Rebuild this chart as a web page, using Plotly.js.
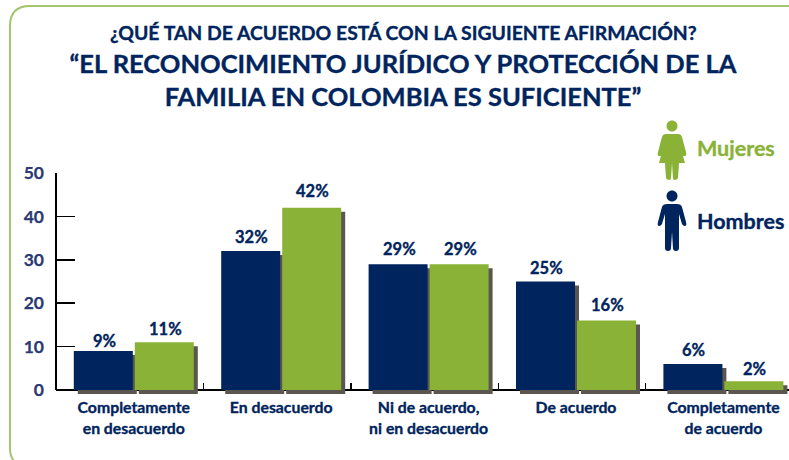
<!DOCTYPE html>
<html>
<head>
<meta charset="utf-8">
<script src="https://cdn.plot.ly/plotly-3.0.1.min.js"></script>
<style>
html,body{margin:0;padding:0;background:#fff}
.gtitle,.annotation text,.xtick text{stroke:#00245d;stroke-width:.35px}
.annotation[data-index="1"] text{stroke:#8ab237}
.ytick text{stroke:#2b3a75;stroke-width:.25px}
</style>
</head>
<body>
<div id="chart" style="width:789px;height:460px"></div>
<script>
const categories = ["Completamente<br>en desacuerdo","En desacuerdo","Ni de acuerdo,<br>ni en desacuerdo","De acuerdo","Completamente<br>de acuerdo"];
const hombres = [9,32,29,25,6];
const mujeres = [11,42,29,16,2];
const hombresLift = [10,14,15,14,14];
const mujeresLift = [13,17,15,16,12];
const yTicks = [0,10,20,30,40,50];
const NAVY="#00245d", GREEN="#8ab237", SHADOW="#5b5750", FONT="Lato, 'Open Sans', sans-serif";
const W=789,H=460,L=56,R=0,T=173,B=66;
const unit=147.4, x0=133.8;
const pw=W-L-R, ph=H-T-B;
const perUnit=217/50, shY=4/perUnit;
const xr=[(L-x0)/unit,(W-R-x0)/unit];
const idx=categories.map((_,i)=>i);
const barW=59/unit, shX=4/unit, off=30.5/unit;
const px=(x)=>((x-L)/pw).toFixed(4);
const py=(y)=>((H-B-y)/ph).toFixed(4);
function path(d){return d.replace(/(-?[\d.]+),(-?[\d.]+)/g,(m,a,b)=>px(+a)+','+py(+b));}
function shape(d,fill){return {type:'path',xref:'paper',yref:'paper',path:path(d),fillcolor:fill,line:{width:0},layer:'above'};}
function circle(cx,cy,r){return `M${cx-r},${cy} C${cx-r},${cy-r*0.55} ${cx-r*0.55},${cy-r} ${cx},${cy-r} C${cx+r*0.55},${cy-r} ${cx+r},${cy-r*0.55} ${cx+r},${cy} C${cx+r},${cy+r*0.55} ${cx+r*0.55},${cy+r} ${cx},${cy+r} C${cx-r*0.55},${cy+r} ${cx-r},${cy+r*0.55} ${cx-r},${cy} Z`;}
const womanBody="M666,134 L678,134 Q681,134 682,137 L686,152 Q687,156 685,156 L683,156 L679,142 L685,163 L679,163 L678,178 Q677,180 675,180 Q673,180 673,178 L672,163 L671,178 Q671,180 669,180 Q667,180 666,178 L665,163 L659,163 L665,142 L661,156 L659,156 Q657,156 658,152 L662,137 Q663,134 666,134 Z";
const manBody="M667,204 L677,204 Q681,204 682,207 L686,222 Q687,226 685,226 Q683,226 682,224 L679,214 L679,248 Q679,251 676,251 Q673,251 673,248 L672,232 L671,248 Q671,251 668,251 Q665,251 665,248 L665,214 L662,224 Q661,226 659,226 Q657,226 658,222 L662,207 Q663,204 667,204 Z";
const frame="M789,6 L30,6 Q10,6 10,26 L10,448 Q10,458 16,463";
function shadowTrace(vals,o){return {type:'bar',x:idx.map(i=>i+o+shX),y:vals,base:vals.map(()=>-shY),width:barW,
  marker:{color:SHADOW,line:{width:0}},hoverinfo:'skip',showlegend:false};}
function barTrace(name,vals,o,color){return {type:'bar',name:name,x:idx.map(i=>i+o),y:vals,width:barW,marker:{color:color,line:{width:0}},showlegend:false};}
const traces=[shadowTrace(hombres,-off),shadowTrace(mujeres,off),barTrace('Hombres',hombres,-off,NAVY),barTrace('Mujeres',mujeres,off,GREEN)];
function labels(vals,lift,o){return vals.map((v,i)=>({x:i+o,y:v,xref:'x',yref:'y',text:v+'%',showarrow:false,yanchor:'middle',yshift:lift[i],xshift:1,font:{family:FONT,size:16.5,color:NAVY,weight:700}}));}
const layout={width:W,height:H,margin:{l:L,r:R,t:T,b:B,pad:0},paper_bgcolor:'rgba(0,0,0,0)',plot_bgcolor:'rgba(0,0,0,0)',barmode:'overlay',showlegend:false,
  title:{text:'“EL RECONOCIMIENTO JURÍDICO Y PROTECCIÓN DE LA<br>FAMILIA EN COLOMBIA ES SUFICIENTE”',x:403/W,xanchor:'center',y:1-73/H,yanchor:'top',font:{family:FONT,size:25.5,color:NAVY,weight:700}},
  xaxis:{range:xr,anchor:'free',position:4/ph,layer:'below traces',tickmode:'array',tickvals:idx,ticktext:categories,ticks:'',showgrid:false,zeroline:false,showline:true,linecolor:'#000',linewidth:2,
    tickfont:{family:FONT,size:15.8,color:NAVY,weight:700},ticklabelstandoff:3,
    minor:{tickmode:'array',tickvals:[0,1,2,3,4].map(i=>i+0.5-4/unit),ticks:'inside',ticklen:6,tickwidth:1.5,tickcolor:'#000',showgrid:false}},
  yaxis:{range:[-shY,50],layer:'below traces',tickmode:'array',tickvals:yTicks,ticks:'inside',ticklen:19,tickwidth:1.5,tickcolor:'#000',showgrid:false,zeroline:false,showline:false,
    ticklabelstandoff:11,tickfont:{family:FONT,size:17.5,color:'#2b3a75',weight:700}},
  annotations:[
    {xref:'paper',yref:'paper',x:+px(403),y:+py(32),text:'¿QUÉ TAN DE ACUERDO ESTÁ CON LA SIGUIENTE AFIRMACIÓN?',showarrow:false,xanchor:'center',yanchor:'middle',font:{family:FONT,size:19.4,color:NAVY,weight:700}},
    {xref:'paper',yref:'paper',x:+px(695),y:+py(148),text:'Mujeres',showarrow:false,xanchor:'left',yanchor:'middle',font:{family:FONT,size:21.5,color:GREEN,weight:700}},
    {xref:'paper',yref:'paper',x:+px(695),y:+py(221),text:'Hombres',showarrow:false,xanchor:'left',yanchor:'middle',font:{family:FONT,size:21.5,color:NAVY,weight:700}},
    ...labels(hombres,hombresLift,-off),...labels(mujeres,mujeresLift,off)
  ],
  shapes:[
    {type:'path',xref:'paper',yref:'paper',path:path(frame),line:{color:'#a3c46c',width:2},fillcolor:'rgba(0,0,0,0)',layer:'below'},
    {type:'line',xref:'paper',yref:'y',x0:0,x1:0,y0:0,y1:50,line:{color:'#000',width:2},layer:'below'},
    shape(circle(672,126,5.5),GREEN),shape(womanBody,GREEN),
    shape(circle(672,196,5.5),NAVY),shape(manBody,NAVY)
  ]
};
Plotly.newPlot('chart',traces,layout,{displayModeBar:false,staticPlot:true});
</script>
</body>
</html>
